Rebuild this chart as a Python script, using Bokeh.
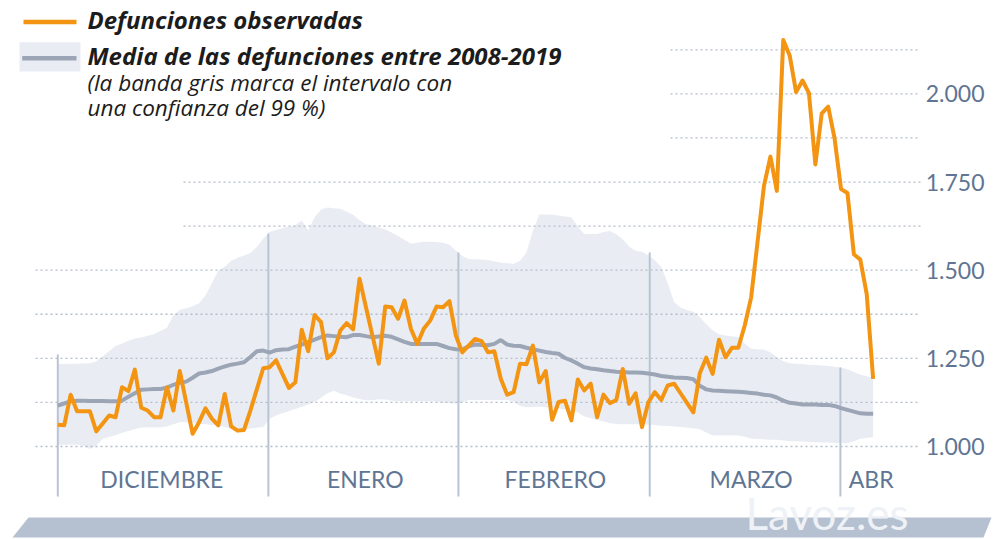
from bokeh.plotting import figure
from bokeh.models import Range1d
from bokeh.embed import file_html
from bokeh.resources import INLINE
from bokeh.core.properties import value

# ---------------- data ----------------
days = list(range(128))  # day 0 = 1 Dec 2019

observed = [
    1062, 1060, 1147, 1100, 1100, 1100, 1043, 1065, 1088, 1083,
    1168, 1157, 1218, 1110, 1102, 1083, 1083, 1168, 1102, 1214,
    1125, 1036, 1069, 1108, 1079, 1060, 1149, 1057, 1045, 1047,
    1102, 1162, 1222, 1225, 1244, 1205, 1166, 1182, 1331, 1270,
    1373, 1353, 1250, 1267, 1329, 1350, 1332, 1476, 1395, 1315,
    1235, 1397, 1395, 1362, 1414, 1334, 1291, 1334, 1357, 1397,
    1395, 1412, 1315, 1267, 1286, 1305, 1299, 1267, 1270, 1192,
    1147, 1154, 1235, 1233, 1286, 1182, 1214, 1076, 1126, 1130,
    1074, 1190, 1159, 1178, 1083, 1147, 1123, 1132, 1220, 1121,
    1151, 1055, 1126, 1154, 1132, 1173, 1178, 1151, 1124, 1097,
    1208, 1252, 1206, 1303, 1253, 1280, 1280, 1343, 1423, 1581,
    1740, 1822, 1725, 2153, 2109, 2005, 2038, 2002, 1800, 1945,
    1964, 1873, 1730, 1719, 1545, 1530, 1432, 1192,
]

mean_2008_2019 = [
    1116, 1122, 1128, 1130, 1130, 1129, 1129, 1129, 1128, 1128,
    1130, 1141, 1151, 1161, 1162, 1163, 1163, 1167, 1175, 1181,
    1184, 1195, 1207, 1210, 1214, 1221, 1227, 1232, 1235, 1239,
    1254, 1270, 1272, 1266, 1273, 1275, 1276, 1283, 1289, 1296,
    1303, 1310, 1315, 1313, 1311, 1310, 1316, 1316, 1313, 1310,
    1312, 1314, 1311, 1304, 1297, 1291, 1291, 1291, 1291, 1291,
    1285, 1279, 1276, 1275, 1284, 1289, 1288, 1287, 1291, 1302,
    1289, 1286, 1285, 1280, 1276, 1272, 1268, 1265, 1263, 1251,
    1244, 1235, 1225, 1221, 1219, 1216, 1214, 1212, 1211, 1210,
    1210, 1209, 1207, 1204, 1200, 1198, 1196, 1195, 1194, 1191,
    1172, 1162, 1159, 1158, 1157, 1156, 1155, 1154, 1152, 1150,
    1147, 1145, 1139, 1130, 1124, 1122, 1119, 1119, 1119, 1118,
    1118, 1115, 1109, 1104, 1099, 1094, 1093, 1093,
]

band_upper = [
    1234, 1234, 1235, 1235, 1236, 1236, 1242, 1256, 1271, 1285,
    1292, 1300, 1306, 1309, 1314, 1318, 1328, 1337, 1372, 1388,
    1392, 1398, 1406, 1428, 1463, 1499, 1510, 1527, 1535, 1542,
    1549, 1566, 1590, 1609, 1614, 1619, 1623, 1628, 1641, 1613,
    1650, 1672, 1678, 1676, 1674, 1666, 1657, 1642, 1630, 1627,
    1621, 1616, 1607, 1597, 1586, 1576, 1578, 1581, 1581, 1580,
    1578, 1572, 1556, 1540, 1532, 1531, 1530, 1529, 1525, 1522,
    1520, 1518, 1527, 1550, 1612, 1658, 1658, 1658, 1655, 1652,
    1650, 1624, 1603, 1603, 1603, 1608, 1611, 1602, 1588, 1567,
    1555, 1552, 1542, 1528, 1509, 1464, 1410, 1394, 1387, 1382,
    1367, 1347, 1330, 1318, 1315, 1313, 1310, 1292, 1277, 1276,
    1275, 1267, 1254, 1242, 1236, 1235, 1234, 1232, 1231, 1230,
    1228, 1226, 1224, 1219, 1211, 1204, 1199, 1195,
]

band_lower = [
    1004, 1005, 1005, 1006, 1002, 993, 1003, 1022, 1027, 1032,
    1039, 1044, 1049, 1054, 1054, 1054, 1054, 1057, 1063, 1069,
    1069, 1067, 1065, 1063, 1061, 1060, 1055, 1050, 1045, 1048,
    1051, 1053, 1055, 1079, 1088, 1094, 1100, 1106, 1113, 1119,
    1126, 1138, 1151, 1158, 1150, 1145, 1139, 1135, 1131, 1131,
    1134, 1133, 1130, 1128, 1128, 1128, 1128, 1128, 1128, 1127,
    1125, 1123, 1121, 1125, 1132, 1132, 1132, 1132, 1132, 1132,
    1132, 1127, 1115, 1111, 1112, 1113, 1111, 1109, 1107, 1105,
    1103, 1097, 1085, 1080, 1075, 1071, 1066, 1064, 1063, 1063,
    1063, 1063, 1062, 1061, 1059, 1058, 1057, 1055, 1053, 1052,
    1049, 1040, 1031, 1031, 1031, 1031, 1031, 1028, 1022, 1021,
    1020, 1019, 1019, 1017, 1015, 1015, 1014, 1013, 1012, 1011,
    1011, 1010, 1009, 1009, 1015, 1022, 1024, 1026,
]

y_ticks = [1000, 1250, 1500, 1750, 2000]
y_tick_labels = [f"{v:,}".replace(",", ".") for v in y_ticks]
grid_values = [1000, 1125, 1250, 1375, 1500, 1625, 1750, 1875, 2000, 2125]

months = ["DICIEMBRE", "ENERO", "FEBRERO", "MARZO", "ABR"]

# ---------------- layout / style ----------------
ORANGE = "#f39412"
MEAN_GREY = "#9ba5b5"
BAND = "#e9edf3"
GRID = "#b3bdca"
MONTH_LINE = "#b9c4d3"
AXIS_TEXT = "#5f7594"
INK = "#1c1c1c"

# page-pixel -> data helpers used only for decorative placement
def X(px):
    return (px - 57.3) / 6.42

def Y(py):
    return 1000 + (446 - py) * 2.836

month_line_pos = [0, 32.8, 62.4, 92.2, 121.9]
month_line_top = [Y(354), Y(233), Y(252), Y(252), Y(367)]
month_label_pos = [16.2, 47.9, 77.5, 108.0, 126.7]
grid_start_px = [35, 35, 35, 35, 35, 183, 183, 670, 670, 670]

W, H = 1001, 539
p = figure(width=W, height=H,
           x_range=Range1d(X(0), X(W)), y_range=Range1d(Y(H), Y(0)),
           output_backend="svg", toolbar_location=None,
           x_axis_location=None, y_axis_location=None, min_border=0)
p.grid.visible = False
p.outline_line_color = None
p.background_fill_color = "white"
p.border_fill_color = "white"

# confidence band
p.varea(x=days, y1=band_lower, y2=band_upper, fill_color=BAND)

# dotted gridlines
p.segment(x0=[X(s) for s in grid_start_px], y0=grid_values,
          x1=[X(920)] * len(grid_values), y1=grid_values,
          line_color=GRID, line_width=1.3, line_dash="2 3")

# month separators
p.segment(x0=month_line_pos, y0=[Y(496)] * len(month_line_pos),
          x1=month_line_pos, y1=month_line_top,
          line_color=MONTH_LINE, line_width=2)

# series
p.line(days, mean_2008_2019, line_color=MEAN_GREY, line_width=4)
p.line(days, observed, line_color=ORANGE, line_width=4, line_join="round")

# y tick labels (right side)
p.text(x=[X(984)] * len(y_ticks), y=y_ticks, text=y_tick_labels,
       text_align="right", text_baseline="middle",
       text_font=value("Lato"), text_font_size="23px", text_color=AXIS_TEXT)

# month labels
p.text(x=month_label_pos, y=[Y(478)] * len(months), text=months,
       text_align="center", text_baseline="middle",
       text_font=value("Lato"), text_font_size="23px", text_color=AXIS_TEXT)

# legend
p.segment(x0=[X(23)], y0=[Y(21.5)], x1=[X(76)], y1=[Y(21.5)],
          line_color=ORANGE, line_width=4.5)
p.quad(left=[X(19)], right=[X(80)], top=[Y(41.7)], bottom=[Y(71)],
       fill_color=BAND, line_color=None)
p.segment(x0=[X(21.7)], y0=[Y(57.7)], x1=[X(76)], y1=[Y(57.7)],
          line_color=MEAN_GREY, line_width=4.5)
p.text(x=[X(87), X(87)], y=[Y(19), Y(55)],
       text=["Defunciones observadas", "Media de las defunciones entre 2008-2019"],
       text_align="left", text_baseline="middle",
       text_font=value("Open Sans"), text_font_style="bold italic",
       text_font_size="24px", text_color=INK)
p.text(x=[X(87), X(87)], y=[Y(82), Y(107)],
       text=["(la banda gris marca el intervalo con", "una confianza del 99 %)"],
       text_align="left", text_baseline="middle",
       text_font=value("Open Sans"), text_font_style="italic",
       text_font_size="22.5px", text_color=INK)

# footer bar with brand
p.patch(x=[X(12), X(28), X(991), X(983)], y=[Y(537), Y(517), Y(517), Y(537)],
        fill_color="#b5c0d1", line_color=None)
p.text(x=[X(745)], y=[Y(538)], text=["Lavoz.es"],
       text_align="left", text_baseline="bottom",
       text_font=value("Lato"), text_font_size="44px", text_color="#eef1f6")

open("out.html", "w").write(file_html(p, INLINE))
